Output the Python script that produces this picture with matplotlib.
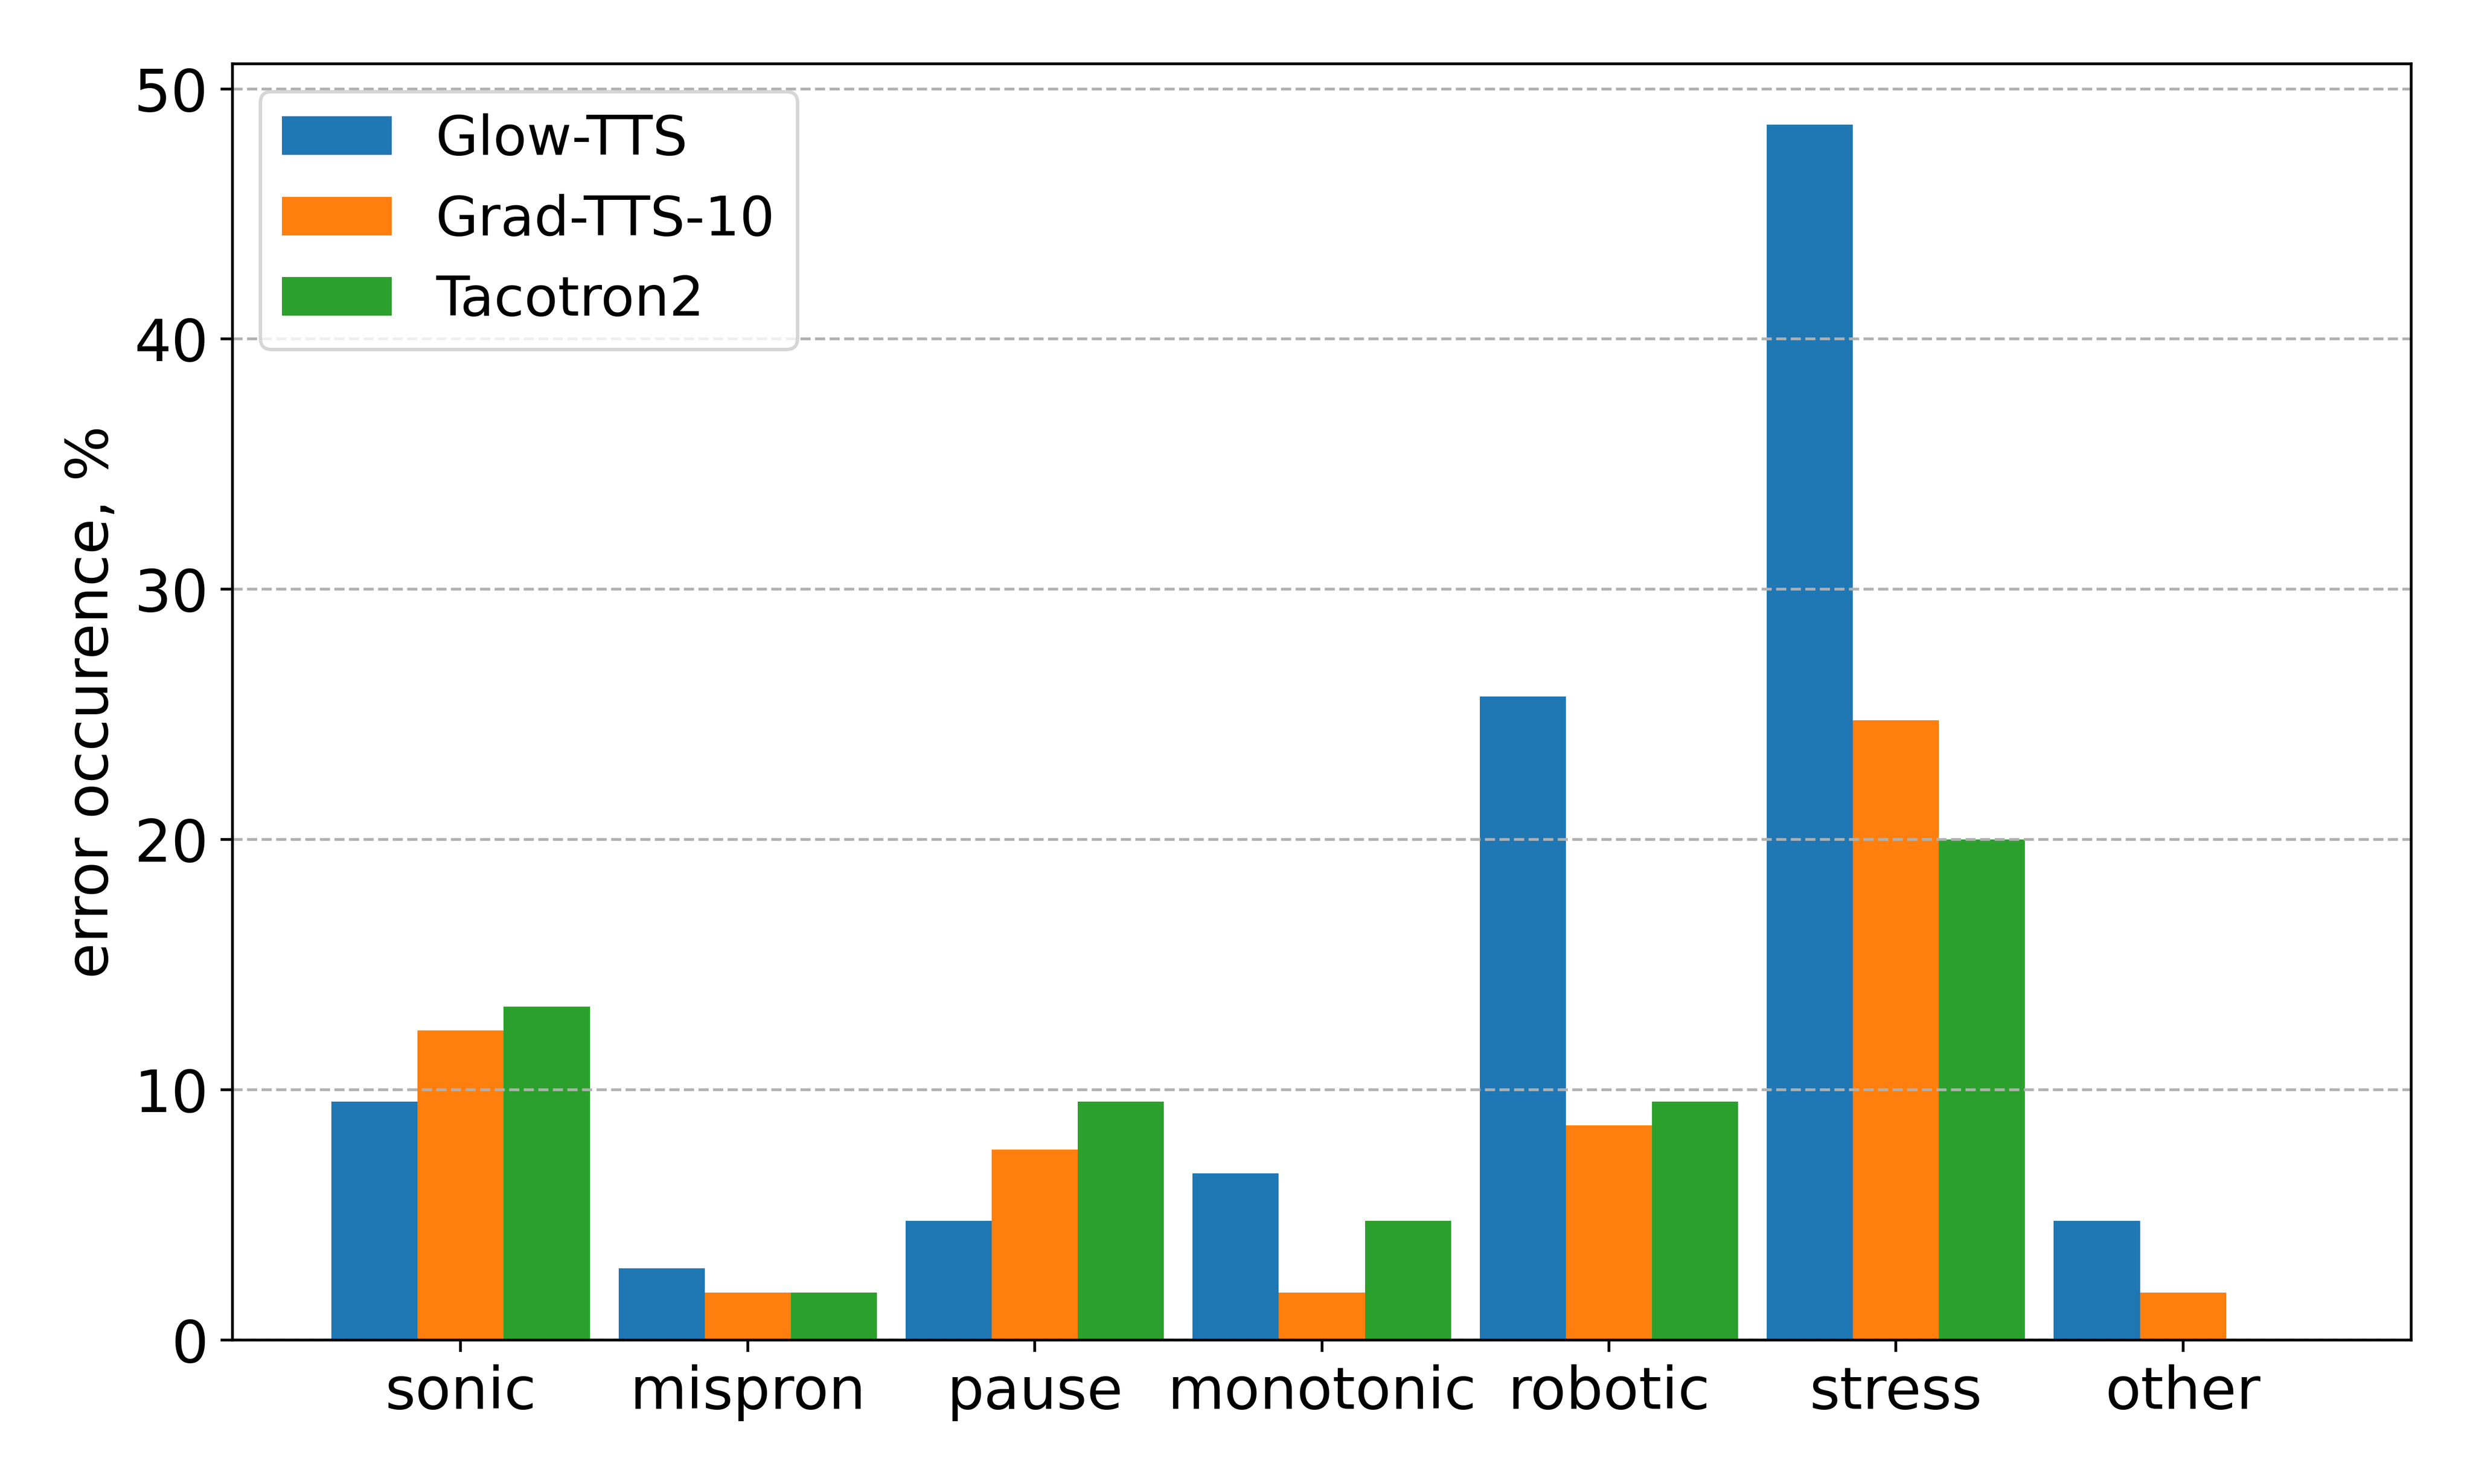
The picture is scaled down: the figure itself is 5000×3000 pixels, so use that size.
import matplotlib
matplotlib.use("Agg")
import matplotlib.pyplot as plt
import numpy as np

categories = ["sonic", "mispron", "pause", "monotonic", "robotic", "stress", "other"]
glow_tts = [9.52, 2.86, 4.76, 6.67, 25.71, 48.57, 4.76]
grad_tts_10 = [12.38, 1.90, 7.62, 1.90, 8.57, 24.76, 1.90]
tacotron2 = [13.33, 1.90, 9.52, 4.76, 9.52, 20.00, 0.0]
series_names = ["Glow-TTS", "Grad-TTS-10", "Tacotron2"]
colors = ["#1f77b4", "#ff7f0e", "#2ca02c"]

fig = plt.figure(figsize=(10, 6), dpi=500)
ax = fig.add_axes([0.094, 0.097, 0.881, 0.86])

x = np.arange(len(categories))
w = 0.3
for i, (vals, name, c) in enumerate(zip([glow_tts, grad_tts_10, tacotron2], series_names, colors)):
    ax.bar(x + (i - 1) * w, vals, width=w, color=c, label=name)

ax.set_xticks(x)
ax.set_xticklabels(categories, fontsize=17)
ax.tick_params(axis="y", labelsize=17)
ax.set_ylabel("error occurence, %", fontsize=17)
ax.grid(axis="y", linestyle="--", color="#b0b0b0")
ax.legend(loc="upper left", fontsize=16)

fig.savefig("out.png", dpi=500)
